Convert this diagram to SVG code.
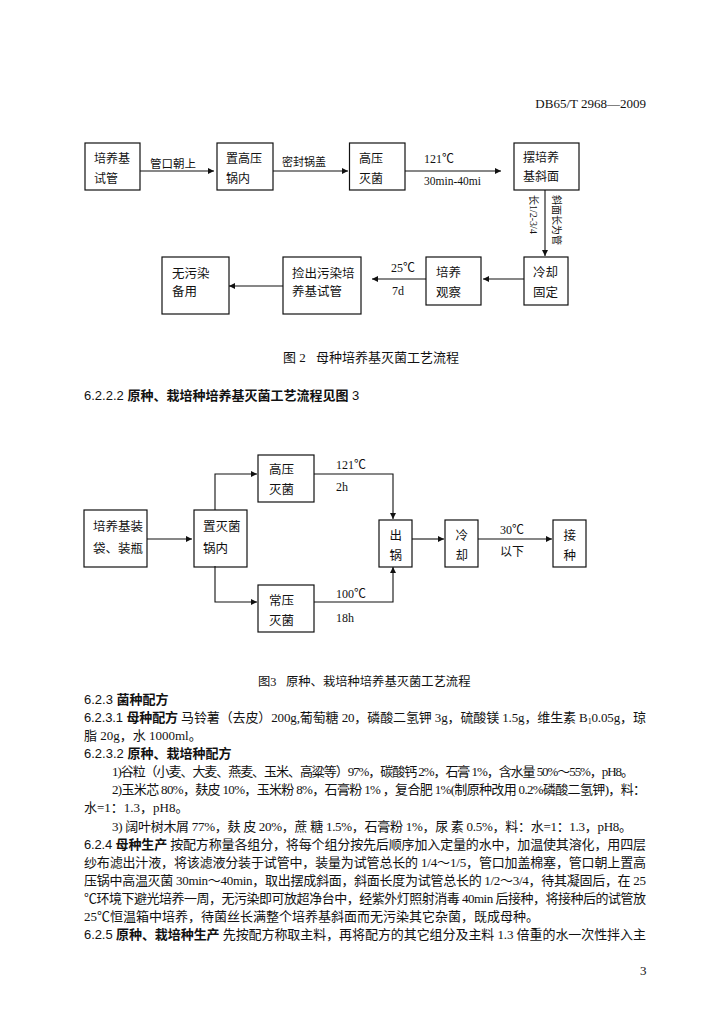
<svg xmlns="http://www.w3.org/2000/svg" width="724" height="1024" viewBox="0 0 724 1024">
<style>
.bg{fill:#fff}
.box{fill:none;stroke:#111;stroke-width:1.2}
.ln{fill:none;stroke:#111;stroke-width:1.1;marker-end:url(#ah)}
.t{font-family:"Liberation Serif","Noto Sans CJK SC",serif;fill:#111}
.f1{font-size:12px}
.f2{font-size:12.5px}
.lb{font-size:11.5px}
.vt{font-size:10px}
.body{font-size:13px}
.hd{font-family:"Liberation Sans","Noto Sans CJK SC",sans-serif;font-weight:bold;fill:#111}
.num{font-family:"Liberation Sans","Noto Sans CJK SC",sans-serif;font-weight:normal}
</style>
<defs>
<marker id="ah" viewBox="0 0 10 10" refX="10" refY="5" markerWidth="8" markerHeight="6" markerUnits="userSpaceOnUse" orient="auto">
<path d="M0,0 L10,5 L0,10 z" fill="#111"/>
</marker>
</defs>
<rect class="bg" x="0" y="0" width="724" height="1024"/>

<text class="t" x="646" y="108" font-size="13" text-anchor="end">DB65/T 2968—2009</text>

<!-- Figure 2 -->
<g id="connectors-fig2">
<path class="ln" d="M140,171 H214"/>
<path class="ln" d="M273,171 H348"/>
<path class="ln" d="M405,171 H501"/>
<path class="ln" d="M545,190 V256"/>
<path class="ln" d="M524,279 H483"/>
<path class="ln" d="M426,279 H372"/>
<path class="ln" d="M283,286 H229"/>
<text class="t lb" x="150" y="168">管口朝上</text>
<text class="t" x="282" y="166" font-size="11">密封锅盖</text>
<text class="t f1" x="424" y="163">121℃</text>
<text class="t lb" x="424" y="185">30min-40mi</text>
<text class="t vt" transform="translate(553,195) rotate(90)">斜面长为管</text>
<text class="t vt" transform="translate(530,195) rotate(90)">长1/2-3/4</text>
<text class="t f1" x="391" y="272">25℃</text>
<text class="t f1" x="392" y="295">7d</text>
</g>
<g id="n-a1"><rect class="box" x="85" y="143" width="55" height="47"/><text class="t f1" x="94" y="162.5">培养基</text><text class="t f1" x="94" y="182.5">试管</text></g>
<g id="n-a2"><rect class="box" x="217" y="143" width="56" height="47"/><text class="t f1" x="226" y="162.5">置高压</text><text class="t f1" x="226" y="182.5">锅内</text></g>
<g id="n-a3"><rect class="box" x="349.5" y="143" width="55.5" height="47"/><text class="t f1" x="359" y="162.5">高压</text><text class="t f1" x="359" y="182.5">灭菌</text></g>
<g id="n-a4"><rect class="box" x="514" y="143" width="65" height="47"/><text class="t f1" x="523" y="162">摆培养</text><text class="t f1" x="523" y="181">基斜面</text></g>
<g id="n-a5"><rect class="box" x="524" y="257" width="44" height="48"/><text class="t f2" x="533" y="276.5">冷却</text><text class="t f2" x="533" y="296.5">固定</text></g>
<g id="n-a6"><rect class="box" x="426" y="257" width="55" height="48"/><text class="t f2" x="436" y="277">培养</text><text class="t f2" x="436" y="297">观察</text></g>
<g id="n-a7"><rect class="box" x="283" y="257" width="78" height="57"/><text class="t f2" x="292" y="278">捡出污染培</text><text class="t f2" x="292" y="296">养基试管</text></g>
<g id="n-a8"><rect class="box" x="162" y="257" width="67" height="57"/><text class="t f2" x="172" y="278">无污染</text><text class="t f2" x="172" y="296">备用</text></g>

<text class="t" x="283" y="362" font-size="13">图 2<tspan x="316">母种培养基灭菌工艺流程</tspan></text>
<text class="hd" x="84" y="400" font-size="13"><tspan class="num">6.2.2.2 </tspan>原种、栽培种培养基灭菌工艺流程见图 <tspan class="num">3</tspan></text>

<!-- Figure 3 -->
<g id="connectors-fig3">
<path class="ln" d="M147,539 H192"/>
<path class="ln" d="M215,510 V474 H257"/>
<path class="ln" d="M215,566 V602 H257"/>
<path class="ln" d="M314,474 H393 V519"/>
<path class="ln" d="M314,602 H393 V567"/>
<path class="ln" d="M412,539 H444"/>
<path class="ln" d="M478,539 H552"/>
<text class="t f1" x="336" y="469">121℃</text>
<text class="t f1" x="336" y="491">2h</text>
<text class="t f1" x="336" y="598">100℃</text>
<text class="t f1" x="336" y="622">18h</text>
<text class="t f1" x="500" y="534">30℃</text>
<text class="t f1" x="500" y="556">以下</text>
</g>
<g id="n-b1"><rect class="box" x="84" y="510" width="63" height="57"/><text class="t f2" x="93" y="531">培养基装</text><text class="t f2" x="93" y="553">袋、装瓶</text></g>
<g id="n-b2"><rect class="box" x="194" y="510" width="53" height="57"/><text class="t f2" x="203" y="531">置灭菌</text><text class="t f2" x="203" y="553">锅内</text></g>
<g id="n-b3"><rect class="box" x="258" y="455" width="56" height="47"/><text class="t f2" x="269" y="474">高压</text><text class="t f2" x="269" y="494">灭菌</text></g>
<g id="n-b4"><rect class="box" x="258" y="585" width="56" height="47"/><text class="t f2" x="269" y="604.5">常压</text><text class="t f2" x="269" y="624.5">灭菌</text></g>
<g id="n-b5"><rect class="box" x="379" y="520" width="33" height="47"/><text class="t f2" x="389.5" y="540">出</text><text class="t f2" x="389.5" y="560">锅</text></g>
<g id="n-b6"><rect class="box" x="445" y="520" width="33" height="47"/><text class="t f2" x="455.5" y="540">冷</text><text class="t f2" x="455.5" y="560">却</text></g>
<g id="n-b7"><rect class="box" x="553" y="520" width="33" height="47"/><text class="t f2" x="563.5" y="540">接</text><text class="t f2" x="563.5" y="560">种</text></g>

<text class="t" x="258" y="686" font-size="12.3">图3<tspan x="286">原种、栽培种培养基灭菌工艺流程</tspan></text>

<!-- Body text -->
<text class="hd" x="84" y="704" font-size="13"><tspan class="num">6.2.3 </tspan>菌种配方</text>
<text class="t body" x="84" y="722" textLength="562" lengthAdjust="spacing"><tspan class="hd"><tspan class="num">6.2.3.1 </tspan>母种配方</tspan> 马铃薯（去皮）200g,葡萄糖 20，磷酸二氢钾 3g，硫酸镁 1.5g，维生素 B<tspan font-size="8" dy="2">1</tspan><tspan dy="-2">0.05g，琼</tspan></text>
<text class="t body" x="84" y="740">脂 20g，水 1000ml。</text>
<text class="hd" x="84" y="758" font-size="13"><tspan class="num">6.2.3.2 </tspan>原种、栽培种配方</text>
<text class="t body" x="112" y="776" textLength="522" lengthAdjust="spacing">1)谷粒（小麦、大麦、燕麦、玉米、高粱等）97%，碳酸钙 2%，石膏 1%，含水量 50%～55%，pH8。</text>
<text class="t body" x="112" y="794" textLength="534" lengthAdjust="spacing">2)玉米芯 80%，麸皮 10%，玉米粉 8%，石膏粉 1% ，复合肥 1%(制原种改用 0.2%磷酸二氢钾)，料：</text>
<text class="t body" x="84" y="812">水=1：1.3，pH8。</text>
<text class="t body" x="112" y="831" textLength="520" lengthAdjust="spacing">3) 阔叶树木屑 77%，麸 皮 20%，蔗 糖 1.5%，石膏粉 1%，尿 素 0.5%，料：水=1：1.3，pH8。</text>
<text class="t body" x="84" y="849" textLength="562" lengthAdjust="spacing"><tspan class="hd"><tspan class="num">6.2.4 </tspan>母种生产</tspan> 按配方称量各组分，将每个组分按先后顺序加入定量的水中，加温使其溶化，用四层</text>
<text class="t body" x="84" y="867" textLength="562" lengthAdjust="spacing">纱布滤出汁液，将该滤液分装于试管中，装量为试管总长的 1/4～1/5，管口加盖棉塞，管口朝上置高</text>
<text class="t body" x="84" y="885" textLength="562" lengthAdjust="spacing">压锅中高温灭菌 30min～40min，取出摆成斜面，斜面长度为试管总长的 1/2～3/4，待其凝固后，在 25</text>
<text class="t body" x="84" y="903" textLength="562" lengthAdjust="spacing">℃环境下避光培养一周，无污染即可放超净台中，经紫外灯照射消毒 40min 后接种，将接种后的试管放</text>
<text class="t body" x="84" y="921">25℃恒温箱中培养，待菌丝长满整个培养基斜面而无污染其它杂菌，既成母种。</text>
<text class="t body" x="84" y="939" textLength="562" lengthAdjust="spacing"><tspan class="hd"><tspan class="num">6.2.5 </tspan>原种、栽培种生产</tspan> 先按配方称取主料，再将配方的其它组分及主料 1.3 倍重的水一次性拌入主</text>

<text class="t" x="640" y="975" font-size="13">3</text>
</svg>
